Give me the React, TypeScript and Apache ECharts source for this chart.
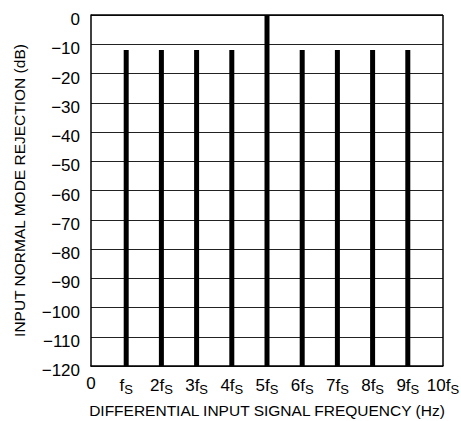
import React, { useEffect, useRef } from "react";
import * as echarts from "echarts";

const harmonics = [1, 2, 3, 4, 5, 6, 7, 8, 9];
const rejectionDb = [-12, -12, -12, -12, 0, -12, -12, -12, -12];
const xTickLabels = ["0", "fS", "2fS", "3fS", "4fS", "5fS", "6fS", "7fS", "8fS", "9fS", "10fS"];

const FONT = "'Liberation Sans', Arial, Helvetica, sans-serif";

export default function App() {
  const ref = useRef<HTMLDivElement>(null);
  useEffect(() => {
    if (!ref.current) return;
    const chart = echarts.init(ref.current, null, { renderer: "svg" });
    const data = harmonics.map((h, i) => [h, rejectionDb[i]]);
    chart.setOption({
      animation: false,
      backgroundColor: "#fff",
      grid: { left: 91, right: 18, top: 15, bottom: 55, containLabel: false, outerBoundsMode: "none" },
      xAxis: {
        type: "value",
        min: 0,
        max: 10,
        interval: 1,
        name: "DIFFERENTIAL INPUT SIGNAL FREQUENCY (Hz)",
        nameLocation: "middle",
        nameGap: 36,
        nameTextStyle: { fontFamily: FONT, fontSize: 15.5, color: "#000" },
        axisLine: { show: true, onZero: false, lineStyle: { color: "#000", width: 1.5 } },
        axisTick: { show: false },
        splitLine: { show: false },
        axisLabel: {
          margin: 9,
          fontFamily: FONT,
          fontSize: 17,
          color: "#000",
          formatter: (v: number) => {
            const s = xTickLabels[Math.round(v)] ?? "";
            if (s.endsWith("fS")) {
              return "{m|" + s.slice(0, -1) + "}{s|S}";
            }
            return "{m|" + s + "}";
          },
          rich: {
            m: { fontFamily: FONT, fontSize: 17, color: "#000" },
            s: { fontFamily: FONT, fontSize: 13, color: "#000", padding: [8, 0, 0, 0] },
          },
        },
      },
      yAxis: {
        type: "value",
        min: -120,
        max: 0,
        interval: 10,
        name: "INPUT NORMAL MODE REJECTION (dB)",
        nameLocation: "middle",
        nameGap: 64,
        nameRotate: 90,
        nameTextStyle: { fontFamily: FONT, fontSize: 15.5, color: "#000" },
        axisLine: { show: true, lineStyle: { color: "#000", width: 1.5 } },
        axisTick: { show: false },
        splitLine: { show: true, lineStyle: { color: "#222", width: 1 } },
        axisLabel: {
          margin: 11,
          fontFamily: FONT,
          fontSize: 17,
          color: "#000",
          formatter: (v: number) => "{t|" + (v < 0 ? "\u2212" + Math.abs(v) : String(v)) + "}",
          rich: {
            t: { fontFamily: FONT, fontSize: 17, color: "#000", padding: [9, 0, 0, 0] },
          },
        },
      },
      series: [
        {
          type: "custom",
          data,
          renderItem: (params: any, api: any) => {
            const x = api.value(0);
            const y = api.value(1);
            const top = api.coord([x, y]);
            const bottom = api.coord([x, -120]);
            const w = 5;
            return {
              type: "rect",
              shape: { x: top[0] - w / 2, y: top[1], width: w, height: bottom[1] - top[1] },
              style: { fill: "#000" },
            };
          },
        },
        {
          type: "line",
          data: [],
          markLine: {
            silent: true,
            symbol: "none",
            label: { show: false },
            lineStyle: { color: "#000", width: 1.5, type: "solid" },
            data: [[{ coord: [0, 0] }, { coord: [10, 0] }], [{ coord: [10, 0] }, { coord: [10, -120] }]],
          },
        },
      ],
    });
    return () => chart.dispose();
  }, []);
  return <div ref={ref} style={{ width: 461, height: 421, position: "absolute", left: 0, top: 0 }} />;
}
